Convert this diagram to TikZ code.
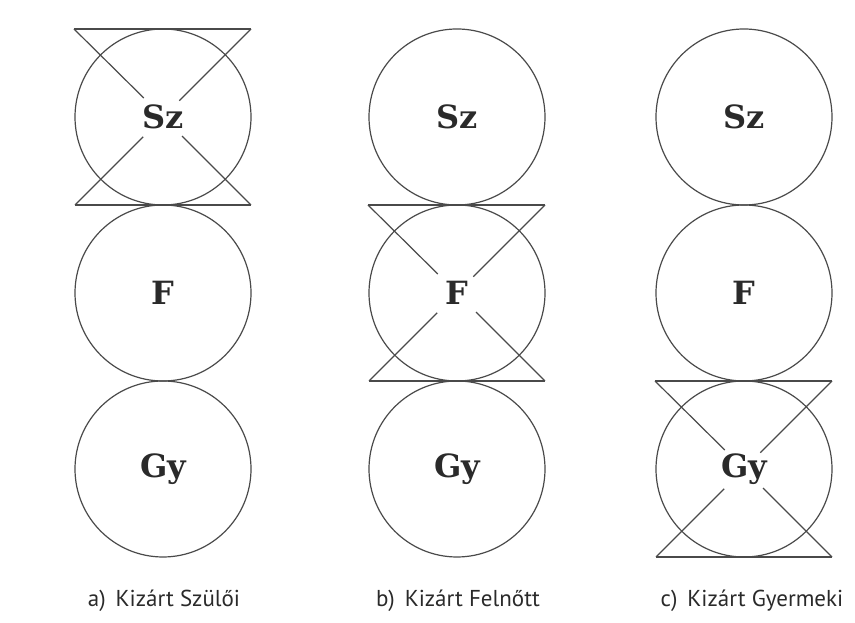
\documentclass[tikz,border=0pt]{standalone}
\usepackage{fontspec}
\setmainfont{PT Sans}
\newfontfamily\labfont{DejaVu Serif}
\usetikzlibrary{calc}
\definecolor{linec}{HTML}{4A4A4A}
\definecolor{textc}{HTML}{2A2A2A}
\newcommand\hglass[1]{%
  \coordinate (#1tl) at ($(#1.center)+(-89,88)$);
  \coordinate (#1tr) at ($(#1.center)+(88,88)$);
  \coordinate (#1bl) at ($(#1.center)+(-88,-88)$);
  \coordinate (#1br) at ($(#1.center)+(88,-88)$);
  \draw[glass] (#1tl) -- (#1tr);
  \draw[glass] (#1bl) -- (#1br);
  \draw[glass] (#1tl) -- ($(#1.center)!27pt!(#1tl)$);
  \draw[glass] (#1tr) -- ($(#1.center)!23pt!(#1tr)$);
  \draw[glass] (#1bl) -- ($(#1.center)!28pt!(#1bl)$);
  \draw[glass] (#1br) -- ($(#1.center)!27pt!(#1br)$);
}
\begin{document}
\begin{tikzpicture}[x=1pt,y=1pt,
  ring/.style={circle,draw=linec,line width=1.2pt,minimum size=176pt,inner sep=0pt,
    font=\labfont\bfseries\fontsize{32}{34}\selectfont,text=textc},
  glass/.style={draw=linec,line width=1.2pt},
  capt/.style={anchor=base,font=\fontsize{23}{26}\selectfont,text=textc}]
\useasboundingbox (0,0) rectangle (855,623);
% column a
\node[ring] (aSz) at (163,506) {Sz};
\node[ring] (aF)  at (163,330) {F};
\node[ring] (aGy) at (163,154) {Gy};
% column b
\node[ring] (bSz) at (457,506) {Sz};
\node[ring] (bF)  at (457,330) {F};
\node[ring] (bGy) at (457,154) {Gy};
% column c
\node[ring] (cSz) at (744,506) {Sz};
\node[ring] (cF)  at (744,330) {F};
\node[ring] (cGy) at (744,154) {Gy};
\hglass{aSz}
\hglass{bF}
\hglass{cGy}
\node[capt] (capa) at (164,16) {a)\, Kizárt Szülői};
\node[capt] (capb) at (458,16) {b)\, Kizárt Felnőtt};
\node[capt] (capc) at (752,16) {c)\, Kizárt Gyermeki};
\end{tikzpicture}
\end{document}
